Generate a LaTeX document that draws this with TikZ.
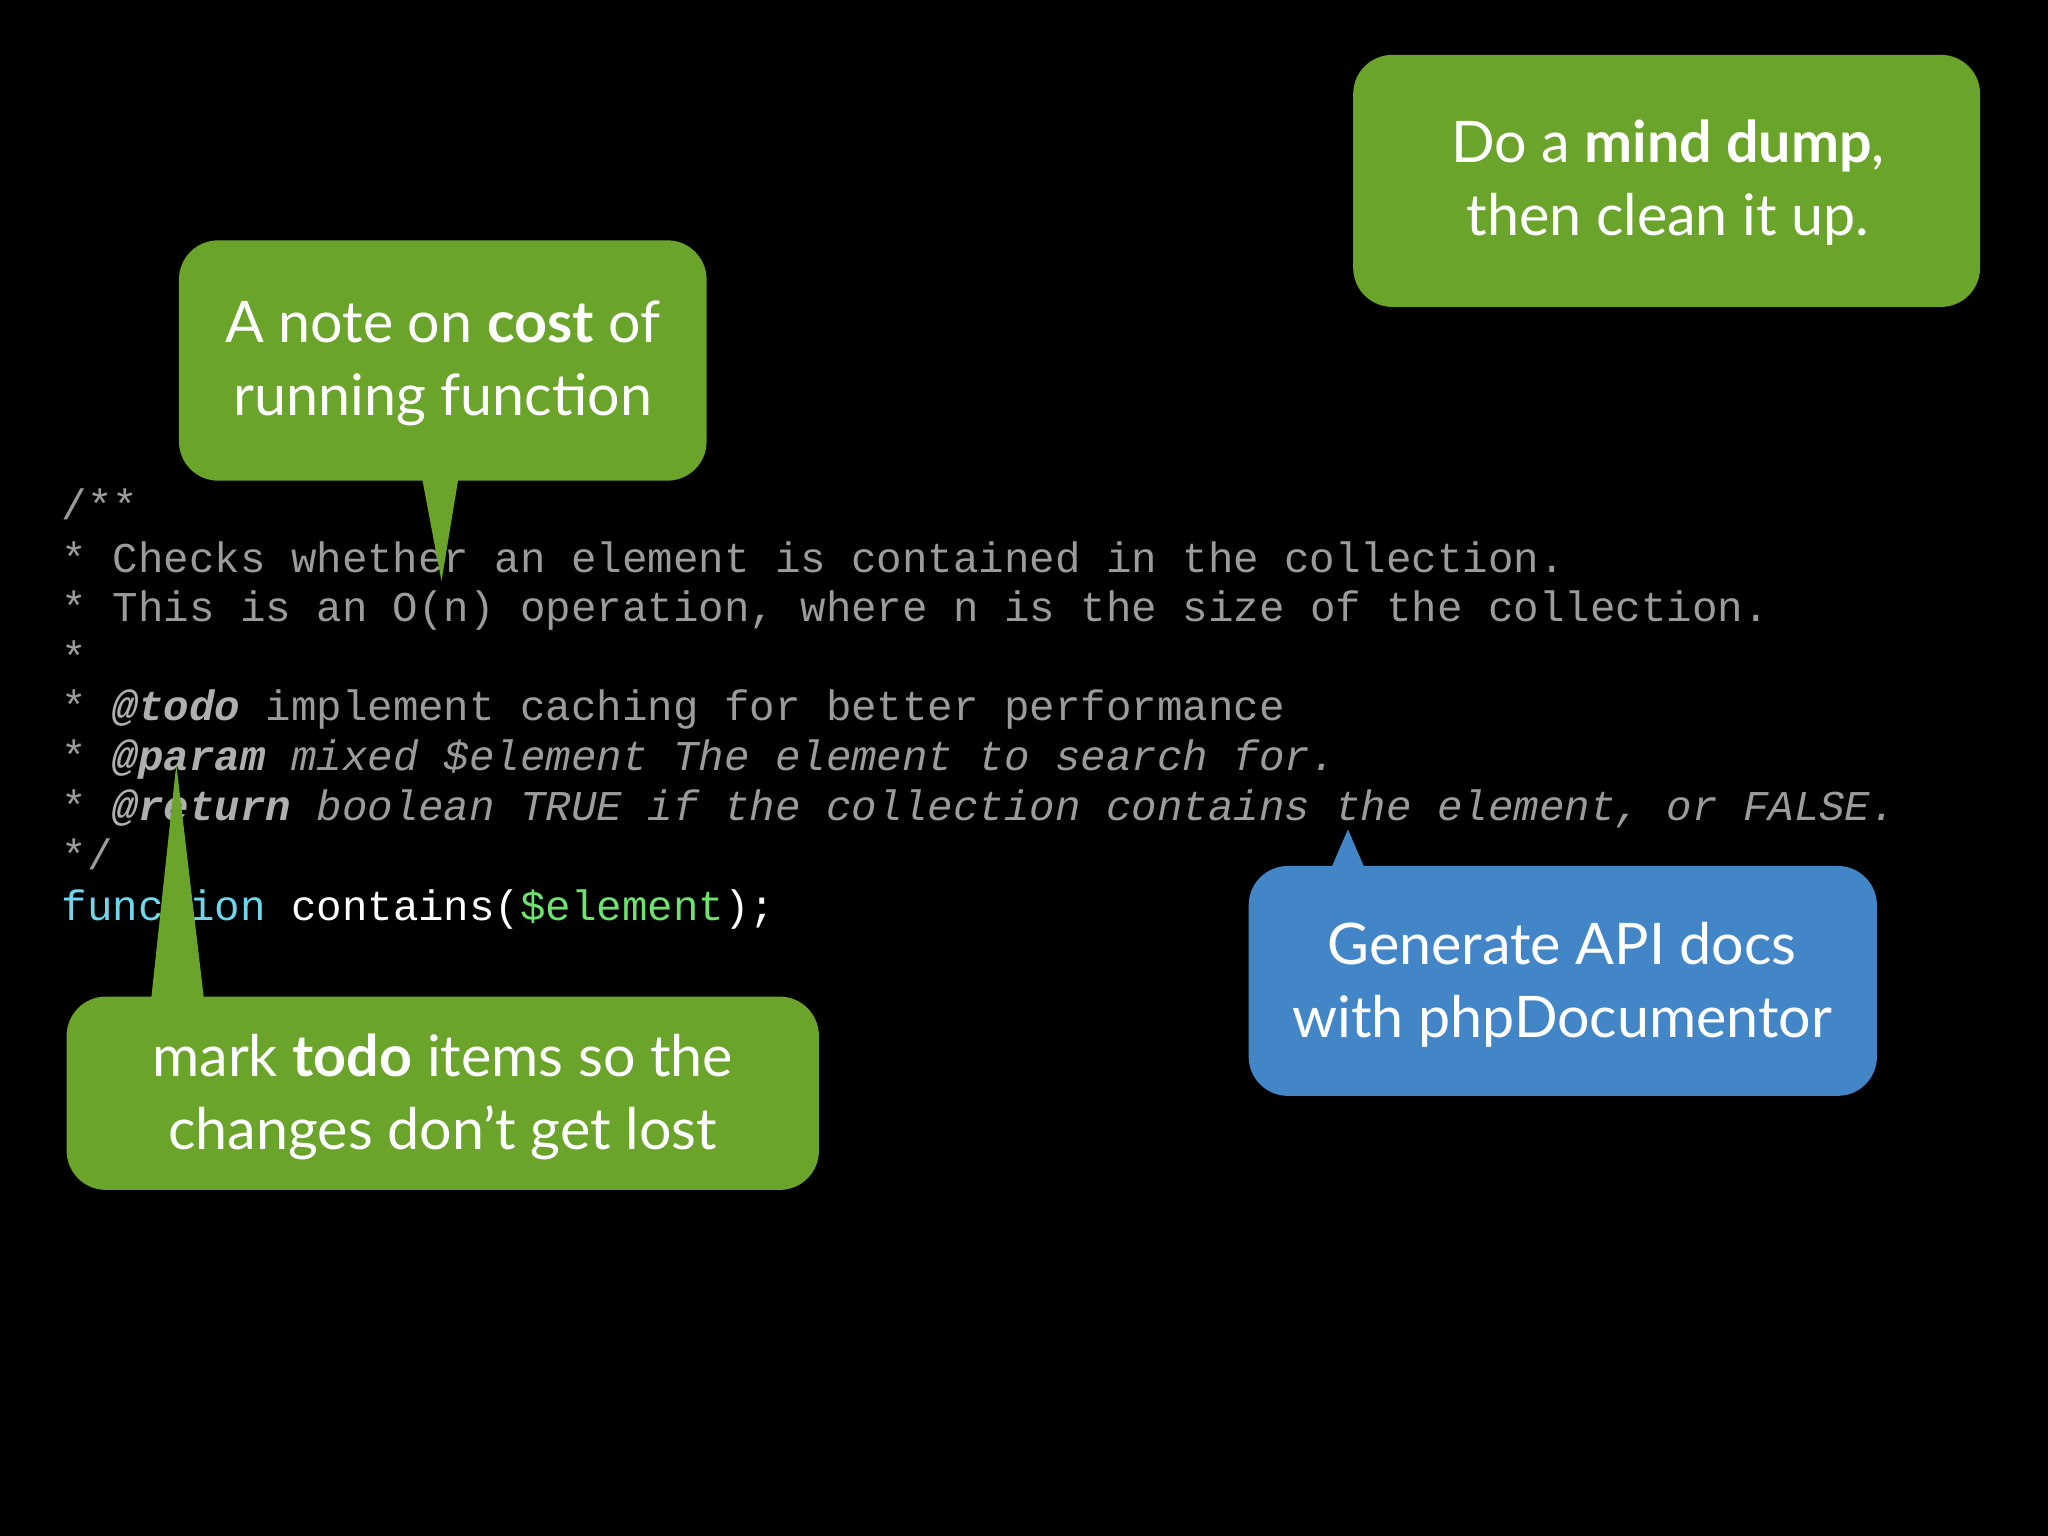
\documentclass[tikz,border=0pt]{standalone}
\usepackage{fontspec}
\setmainfont{Lato}
\setmonofont{Liberation Mono}
\definecolor{cgreen}{RGB}{106,164,42}
\definecolor{cblue}{RGB}{66,134,200}
\definecolor{cgray}{RGB}{155,155,155}
\definecolor{tgray}{RGB}{175,175,175}
\definecolor{ccyan}{RGB}{110,215,235}
\definecolor{cgr}{RGB}{110,225,110}
\begin{document}
\begin{tikzpicture}[x=0.02cm,y=-0.02cm,
  code/.style={anchor=base west,inner sep=0,font=\ttfamily\fontsize{18.5}{20}\selectfont,text=cgray},
  bubble/.style={rounded corners=0.6cm,text=white,align=center,font=\fontsize{25}{32}\selectfont,inner sep=0},
  tag/.style={}]
\fill[black] (0,0) rectangle (1568,1176);
\useasboundingbox (0,0) rectangle (1568,1176);
\node[code] (l1) at (47,398) {/**};
\node[code] (l2) at (47,438) {* Checks whether an element is contained in the collection.};
\node[code] (l3) at (47,476) {* This is an O(n) operation, where n is the size of the collection.};
\node[code] (l4) at (47,514) {*};
\node[code] (l5) at (47,552) {* {\bfseries\itshape\color{tgray}@todo} implement caching for better performance};
\node[code] (l6) at (47,590) {* {\bfseries\itshape\color{tgray}@param} \itshape mixed \$element The element to search for.};
\node[code] (l7) at (47,628) {* {\bfseries\itshape\color{tgray}@return} \itshape boolean TRUE if the collection contains the element, or FALSE.};
\node[code] (l8) at (47,666) {*/};
\node[code] (l9) at (47,705) {{\color{ccyan}function} {\color{white}contains(}{\color{cgr}\$element}{\color{white});}};
% callouts
\fill[cgreen,rounded corners=0.6cm] (1036,42) rectangle (1516,235);
\node[bubble] (mind) at (1277,140) {Do a \textbf{mind dump},\\then clean it up.};
\fill[cgreen,rounded corners=0.6cm] (137,184) rectangle (541,368);
\fill[cgreen] (322,360) -- (338,445) -- (352,360) -- cycle;
\node[bubble] (cost) at (339,278) {A note on \textbf{cost} of\\running function};
\fill[cgreen,rounded corners=0.6cm] (51,763) rectangle (627,911);
\fill[cgreen] (115,772) -- (135,585) -- (157,772) -- cycle;
\node[bubble] (todo) at (339,840) {mark \textbf{todo} items so the\\changes don’t get lost};
\fill[cblue,rounded corners=0.6cm] (956,663) rectangle (1437,839);
\fill[cblue] (1016,672) -- (1032,635) -- (1048,672) -- cycle;
\node[bubble] (api) at (1196,754) {Generate API docs\\with phpDocumentor};
\end{tikzpicture}
\end{document}
